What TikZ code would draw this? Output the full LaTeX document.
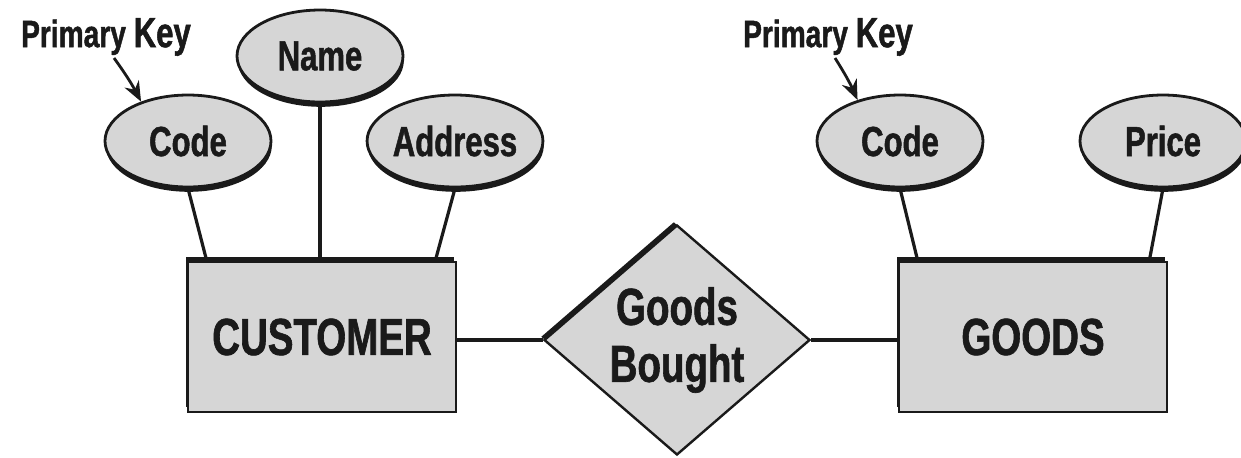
\documentclass[tikz,border=0pt]{standalone}
\usepackage{fontspec}
\usetikzlibrary{shapes.geometric,shadows,calc,arrows.meta}
\newfontfamily\cond[FakeStretch=0.74,FakeBold=1.2]{Liberation Sans}
\definecolor{ink}{HTML}{1A1A1A}
\definecolor{shade}{HTML}{D6D6D6}
\begin{document}
\begin{tikzpicture}[x=0.5pt,y=-0.5pt,
  every node/.style={text=ink},
  attr/.style={ellipse, draw=ink, line width=1.4pt, fill=shade,
    minimum width=83pt, minimum height=46pt, inner sep=0pt,
    font=\cond\bfseries\fontsize{21}{24}\selectfont,
    drop shadow={shadow xshift=0.4pt, shadow yshift=-2.4pt, opacity=1, fill=ink}},
  entity/.style={rectangle, draw=ink, line width=1.3pt, fill=shade,
    minimum width=134pt, minimum height=75pt, inner sep=0pt,
    font=\cond\bfseries\fontsize{26}{28}\selectfont,
    drop shadow={shadow xshift=-1.2pt, shadow yshift=2.6pt, opacity=1, fill=ink}},
  relation/.style={diamond, draw=ink, line width=1.2pt, fill=shade,
    minimum width=133pt, minimum height=115pt, inner sep=0pt, aspect=1.157,
    align=center, font=\cond\bfseries\fontsize{26}{28.5}\selectfont,
    drop shadow={shadow xshift=-1.6pt, shadow yshift=1.6pt, opacity=1, fill=ink}},
  keylabel/.style={font=\cond\bfseries\fontsize{19}{22}\selectfont, inner sep=0pt},
  link/.style={draw=ink, line width=1.6pt},
  pointer/.style={draw=ink, line width=1.4pt, -{Stealth[length=10pt,width=8pt]}}
]
\useasboundingbox[fill=white] (0,0) rectangle (1241,457);

% attributes of CUSTOMER
\node[attr] (code1) at (188,141) {Code};
\node[attr] (name)  at (320,56)  {Name};
\node[attr] (addr)  at (455,141) {Address};

% attributes of GOODS
\node[attr] (code2) at (900,141) {Code};
\node[attr] (price) at (1163,141) {Price};

% entities and relationship
\node[entity] (cust)  at (322,337) {CUSTOMER};
\node[entity] (goods) at (1033,337) {GOODS};
\node[relation] (rel) at (677,340) {Goods\\Bought};

% attribute links
\draw[link] (code1.south) -- ($(cust.north west)+(20,0)$);
\draw[link] (name.south) -- (name.south |- cust.north);
\draw[link] (addr.south) -- ($(cust.north east)+(-22,0)$);
\draw[link] (code2.south) -- ($(goods.north west)+(20,0)$);
\draw[link] (price.south) -- ($(goods.north east)+(-19,0)$);

% relationship links
\draw[link] (cust.east |- rel.west) -- (rel.west);
\draw[link] (rel.east) -- (goods.west |- rel.east);

% primary key markers
\node[keylabel] (pk1) at (106,37) {Primary \fontsize{21}{22}\selectfont Key};
\node[keylabel] (pk2) at (828,37) {Primary \fontsize{21}{22}\selectfont Key};
\coordinate (pk1tail) at (114,58);
\coordinate (pk2tail) at (835,58);
\draw[pointer] (pk1tail) to[bend left=4] (code1.140);
\draw[pointer] (pk2tail) to[bend left=4] (code2.136);
\end{tikzpicture}
\end{document}
